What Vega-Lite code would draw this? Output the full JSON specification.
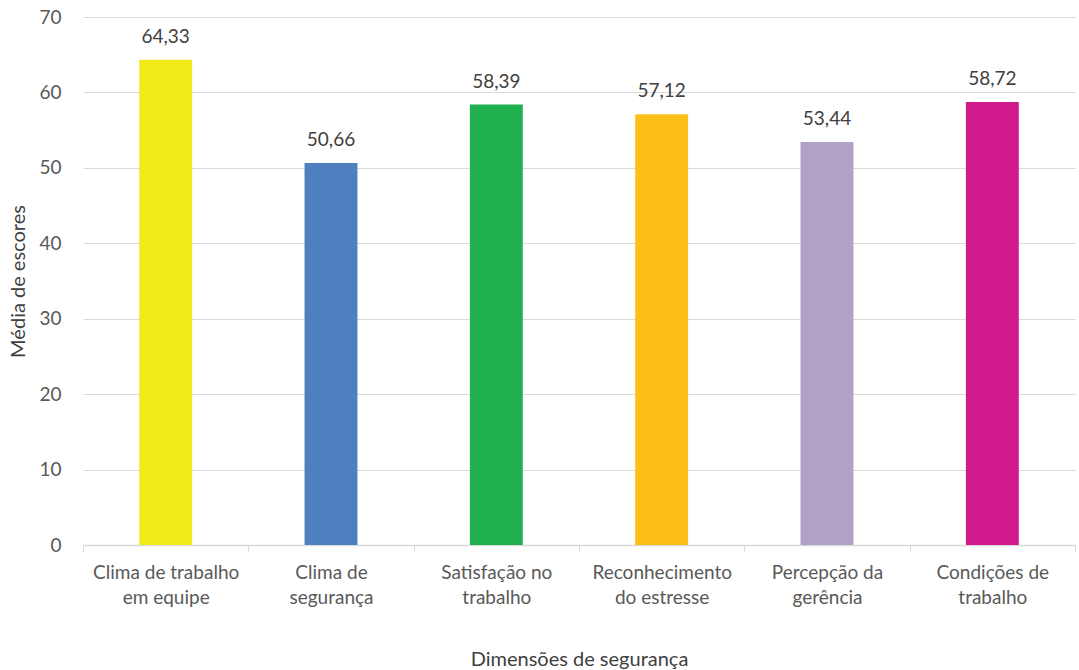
{
  "$schema": "https://vega.github.io/schema/vega-lite/v6.json",
  "width": 992,
  "height": 528,
  "autosize": {"type": "none"},
  "padding": {"left": 83, "top": 17, "right": 4, "bottom": 125},
  "background": "white",
  "config": {
    "view": {"stroke": null},
    "font": "Lato",
    "locale": {"number": {"decimal": ",", "thousands": ".", "grouping": [3], "currency": ["", ""]}}
  },
  "data": {
    "values": [
      {"dim": "Clima de trabalho\nem equipe", "valor": 64.33, "cor": "#F2EA1A"},
      {"dim": "Clima de\nsegurança", "valor": 50.66, "cor": "#4E80C0"},
      {"dim": "Satisfação no\ntrabalho", "valor": 58.39, "cor": "#21B04F"},
      {"dim": "Reconhecimento\ndo estresse", "valor": 57.12, "cor": "#FBBF15"},
      {"dim": "Percepção da\ngerência", "valor": 53.44, "cor": "#B0A1C7"},
      {"dim": "Condições de\ntrabalho", "valor": 58.72, "cor": "#D0198A"}
    ]
  },
  "encoding": {
    "x": {
      "field": "dim",
      "type": "nominal",
      "sort": null,
      "scale": {"paddingInner": 0, "paddingOuter": 0},
      "axis": {
        "title": "Dimensões de segurança",
        "titleFont": "Lato",
        "titleFontSize": 20,
        "titleFontWeight": "normal",
        "titleColor": "#404040",
        "titlePadding": 42,
        "labelExpr": "split(datum.label, '\\n')",
        "labelAngle": 0,
        "labelFontSize": 19,
        "labelColor": "#595959",
        "labelPadding": 11,
        "labelLineHeight": 25,
        "tickBand": "extent",
        "tickColor": "#D9D9D9",
        "tickSize": 7,
        "domainColor": "#D9D9D9",
        "domainWidth": 1.5,
        "grid": false
      }
    },
    "y": {
      "field": "valor",
      "type": "quantitative",
      "scale": {"domain": [0, 70]},
      "axis": {
        "title": "Média de escores",
        "titleFont": "Lato",
        "titleFontSize": 20,
        "titleFontWeight": "normal",
        "titleColor": "#404040",
        "titlePadding": 10,
        "values": [0, 10, 20, 30, 40, 50, 60, 70],
        "format": "d",
        "labelFontSize": 19,
        "labelColor": "#595959",
        "labelPadding": 22,
        "ticks": false,
        "domain": false,
        "gridColor": "#D9D9D9",
        "gridWidth": 1.2
      }
    }
  },
  "layer": [
    {
      "mark": {"type": "bar", "width": {"band": 0.32}},
      "encoding": {
        "color": {"field": "cor", "type": "nominal", "scale": null, "legend": null}
      }
    },
    {
      "mark": {"type": "text", "dy": -23, "fontSize": 19, "color": "#404040"},
      "encoding": {
        "text": {"field": "valor", "type": "quantitative", "format": ".2f"}
      }
    }
  ]
}
